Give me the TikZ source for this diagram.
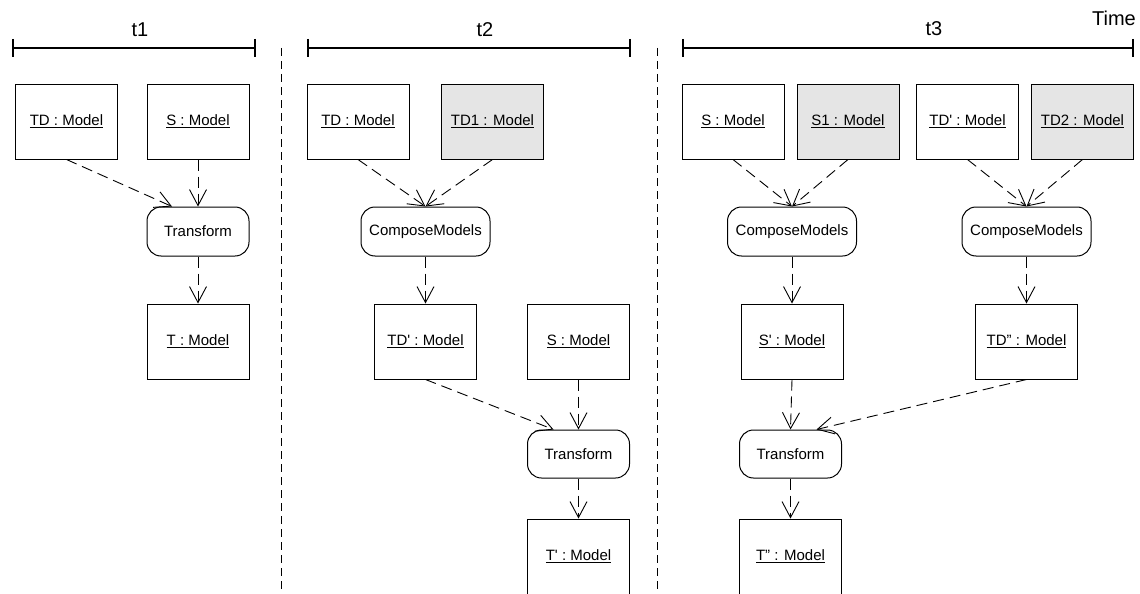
\documentclass[tikz,border=0pt]{standalone}
\usepackage{fontspec}
\setmainfont{Liberation Sans}
\usetikzlibrary{arrows.meta}

\begin{document}
\begin{tikzpicture}[x=1pt,y=-1pt,
  every node/.style={font=\fontsize{15}{18}\selectfont, inner sep=0pt},
  obj/.style={draw, line width=1pt, fill=white, minimum width=102pt, minimum height=75pt},
  newobj/.style={obj, fill=black!10},
  proc/.style={draw, line width=1pt, rounded corners=14pt, minimum width=102pt, minimum height=49pt},
  wideproc/.style={proc, minimum width=129pt},
  flow/.style={line width=0.9pt, dash pattern=on 11pt off 6pt,
    -{Straight Barb[length=16pt,width=17pt]}},
  period/.style={line width=1.8pt},
  phase/.style={font=\fontsize{20}{24}\selectfont, anchor=base},
  separator/.style={line width=1pt, dash pattern=on 8pt off 5pt}
]
\useasboundingbox (0,0) rectangle (1140,594);

% time axis
\draw[period] (13,39) -- (13,57) (13,48) -- (255,48) (255,39) -- (255,57);
\draw[period] (308,39) -- (308,57) (308,48) -- (630,48) (630,39) -- (630,57);
\draw[period] (683,39) -- (683,57) (683,48) -- (1133,48) (1133,39) -- (1133,57);
\node[phase] (p1) at (140,37) {t1};
\node[phase] (p2) at (485,37) {t2};
\node[phase] (p3) at (934,36) {t3};
\node[phase, anchor=base east] (time) at (1136,26) {Time};

% phase separators
\coordinate (s1a) at (281,48);
\coordinate (s1b) at (281,594);
\coordinate (s2a) at (657,48);
\coordinate (s2b) at (657,594);
\draw[separator] (s1a) -- (s1b);
\draw[separator] (s2a) -- (s2b);

% phase t1
\node[obj] (tdA) at (66.5,121.5) {\underline{TD : Model}};
\node[obj] (sA) at (198,121.5) {\underline{S : Model}};
\node[proc] (trA) at (198,231.5) {Transform};
\node[obj] (tA) at (198,341.5) {\underline{T : Model}};
\draw[flow] (tdA.south) -- ([xshift=-26pt]trA.north);
\draw[flow] (sA.south) -- (trA.north);
\draw[flow] (trA.south) -- (tA.north);

% phase t2
\node[obj] (tdB) at (358,121.5) {\underline{TD : Model}};
\node[newobj] (td1B) at (492.5,121.5) {\underline{TD1 : Model}};
\node[wideproc] (cmB) at (425.5,231.5) {ComposeModels};
\node[obj] (tdpB) at (425.5,341.5) {\underline{TD\textquotesingle{} : Model}};
\node[obj] (sB) at (578.5,341.5) {\underline{S : Model}};
\node[proc, minimum height=48pt] (trB) at (578.5,454) {Transform};
\node[obj] (tpB) at (578.5,556.5) {\underline{T\textquotesingle{} : Model}};
\draw[flow] (tdB.south) -- (cmB.north);
\draw[flow] (td1B.south) -- (cmB.north);
\draw[flow] (cmB.south) -- (tdpB.north);
\draw[flow] (tdpB.south) -- ([xshift=-25pt]trB.north);
\draw[flow] (sB.south) -- (trB.north);
\draw[flow] (trB.south) -- (tpB.north);

% phase t3
\node[obj] (sC) at (733,121.5) {\underline{S : Model}};
\node[newobj] (s1C) at (848,121.5) {\underline{S1 : Model}};
\node[obj] (tdpC) at (967.5,121.5) {\underline{TD\textquotesingle{} : Model}};
\node[newobj] (td2C) at (1082.5,121.5) {\underline{TD2 : Model}};
\node[wideproc] (cmC) at (792,231.5) {ComposeModels};
\node[wideproc] (cmD) at (1026.5,231.5) {ComposeModels};
\node[obj] (spC) at (792,341.5) {\underline{S\textquotesingle{} : Model}};
\node[obj] (tdppC) at (1026.5,341.5) {\underline{TD" : Model}};
\node[proc, minimum height=48pt] (trC) at (790.5,454) {Transform};
\node[obj] (tppC) at (790.5,556.5) {\underline{T" : Model}};
\draw[flow] (sC.south) -- (cmC.north);
\draw[flow] (s1C.south) -- (cmC.north);
\draw[flow] (tdpC.south) -- (cmD.north);
\draw[flow] (td2C.south) -- (cmD.north);
\draw[flow] (cmC.south) -- (spC.north);
\draw[flow] (cmD.south) -- (tdppC.north);
\draw[flow] (spC.south) -- (trC.north);
\draw[flow] (tdppC.south) -- ([xshift=26pt]trC.north);
\draw[flow] (trC.south) -- (tppC.north);
\end{tikzpicture}
\end{document}
